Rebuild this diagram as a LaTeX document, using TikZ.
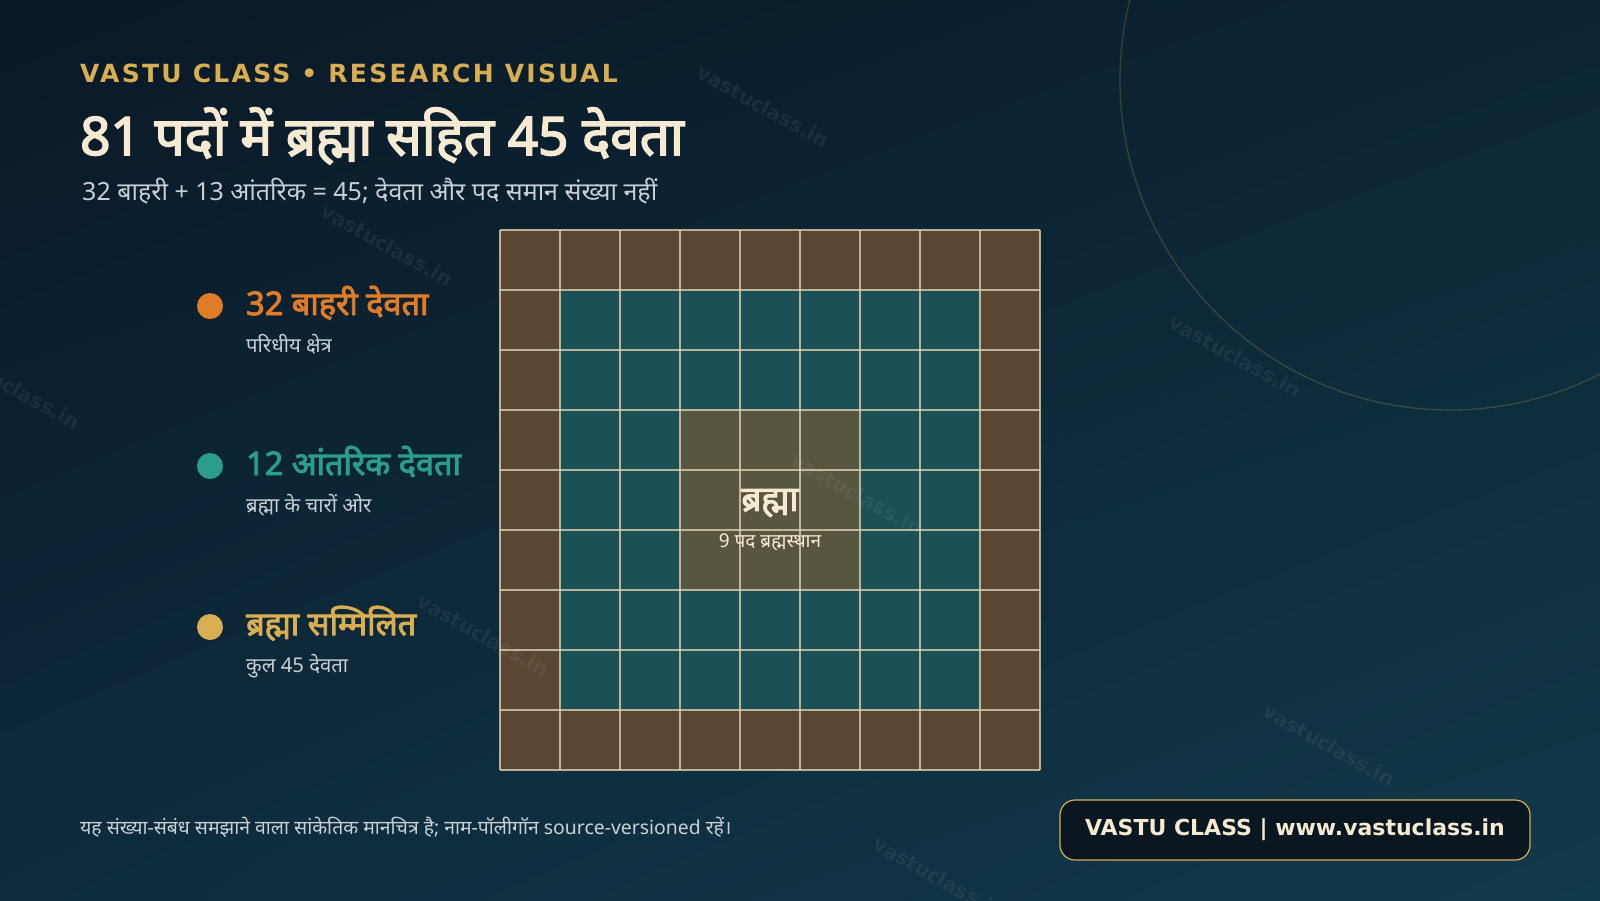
\documentclass[tikz,border=0pt]{standalone}
\usepackage{fontspec}
\setmainfont{Noto Sans}[Script=Devanagari, BoldFont={Noto Sans},
                        BoldFeatures={FakeBold=3}]
\newfontfamily\dejavu{DejaVu Sans}
\newfontfamily\headfont[LetterSpace=9.2]{DejaVu Sans}
\usetikzlibrary{positioning}
\usetikzlibrary{shadings}
\definecolor{bgtl}{HTML}{0A1826}
\definecolor{bgtr}{HTML}{0C2533}
\definecolor{bgbl}{HTML}{0D2B3D}
\definecolor{bgbr}{HTML}{113A4B}
\definecolor{gold}{HTML}{D9AE52}
\definecolor{cream}{HTML}{F6EAD2}
\definecolor{mist}{HTML}{C8D0D6}
\definecolor{orng}{HTML}{E07C28}
\definecolor{teal}{HTML}{2A9D8C}
\definecolor{padbrown}{HTML}{594733}
\definecolor{padteal}{HTML}{1A5056}
\definecolor{padolive}{HTML}{585640}
\definecolor{gridcol}{HTML}{DCCFAE}
\definecolor{badgefill}{HTML}{0A1620}
\tikzset{wmark/.style = {text=white, text opacity=0.06, rotate=-29,
                         font=\dejavu\bfseries\fontsize{20}{24}\selectfont}}
\tikzset{dot/.style = {circle, fill=#1, inner sep=0, minimum size=26}}
\tikzset{legtitle/.style = {anchor=base west, inner sep=0, text=#1,
                            font=\bfseries\fontsize{32.5}{38}\selectfont}}
\tikzset{legsub/.style = {anchor=base west, inner sep=0, text=mist,
                          font=\fontsize{20.3}{24}\selectfont}}
\tikzset{gridline/.style = {draw=gridcol, draw opacity=0.8, line width=1.4}}

\begin{document}
\begin{tikzpicture}[x=1pt, y=-1pt]
      % background
      \shade [upper left=bgtl, upper right=bgtr, lower left=bgbl, lower right=bgbr]
        (0, 0) rectangle (1600, 900);
      \useasboundingbox (0, 0) rectangle (1600, 900);
      \draw [gold, draw opacity=0.22, line width=1.3] (1450, 80) circle [radius=330];
      % headings
      \node [anchor=base west, inner sep=0, text=gold,
             font=\headfont\bfseries\fontsize{25}{30}\selectfont]
        (kicker) at (80, 82) {VASTU CLASS • RESEARCH VISUAL};
      \node [anchor=base west, inner sep=0, text=cream,
             font=\bfseries\fontsize{53}{62}\selectfont]
        (title) at (80, 155) {81 पदों में ब्रह्मा सहित 45 देवता};
      \node [anchor=base west, inner sep=0, text=mist,
             font=\fontsize{25}{30}\selectfont]
        (subtitle) at (82, 200) {32 बाहरी + 13 आंतरिक = 45; देवता और पद समान संख्या नहीं};
      % legend
      \node [dot=orng] (dotouter) at (210, 306) {};
      \node [legtitle=orng] (outer) at (246, 315) {32 बाहरी देवता};
      \node [legsub] (outersub) at (246, 352) {परिधीय क्षेत्र};
      \node [dot=teal] (dotinner) at (210, 466) {};
      \node [legtitle=teal] (inner) at (246, 475) {12 आंतरिक देवता};
      \node [legsub] (innersub) at (246, 512) {ब्रह्मा के चारों ओर};
      \node [dot=gold] (dotbrahma) at (210, 627) {};
      \node [legtitle=gold] (brahma) at (246, 635) {ब्रह्मा सम्मिलित};
      \node [legsub] (brahmasub) at (246, 672) {कुल 45 देवता};
      % 81 pada grid
      \fill [padbrown] (500, 230) rectangle (1040, 770);
      \fill [padteal] (560, 290) rectangle (980, 710);
      \fill [padolive] (680, 410) rectangle (860, 590);
      \foreach \k in {0, ..., 9} {
        \draw [gridline] (500 + 60*\k, 230) -- (500 + 60*\k, 770);
        \draw [gridline] (500, 230 + 60*\k) -- (1040, 230 + 60*\k);
      }
      \node [text=cream, font=\bfseries\fontsize{35}{40}\selectfont]
        (brahmapada) at (770, 503) {ब्रह्मा};
      \node [text=cream, font=\fontsize{19}{22}\selectfont]
        (brahmasthan) at (770, 542) {9 पद ब्रह्मस्थान};
      % watermarks
      \foreach \wx/\wy [count=\wi] in {763/106, 387/245, 14/388, 1235/356,
                                       857/494, 483/635, 1329/745, 939/878}
        \node [wmark] (wm\wi) at (\wx, \wy) {vastuclass.in};
      % footer
      \node [anchor=base west, inner sep=0, text=mist,
             font=\fontsize{19.4}{23}\selectfont]
        (note) at (80, 834) {यह संख्या-संबंध समझाने वाला सांकेतिक मानचित्र है; नाम-पॉलीगॉन source-versioned रहें।};
      \draw [gold, fill=badgefill, line width=1.2, rounded corners=15]
        (1060, 800) rectangle (1530, 860);
      \node [text=cream, font=\dejavu\bfseries\fontsize{22}{26}\selectfont]
        (badge) at (1295, 830) {VASTU CLASS | www.vastuclass.in};
    \end{tikzpicture}
\end{document}
